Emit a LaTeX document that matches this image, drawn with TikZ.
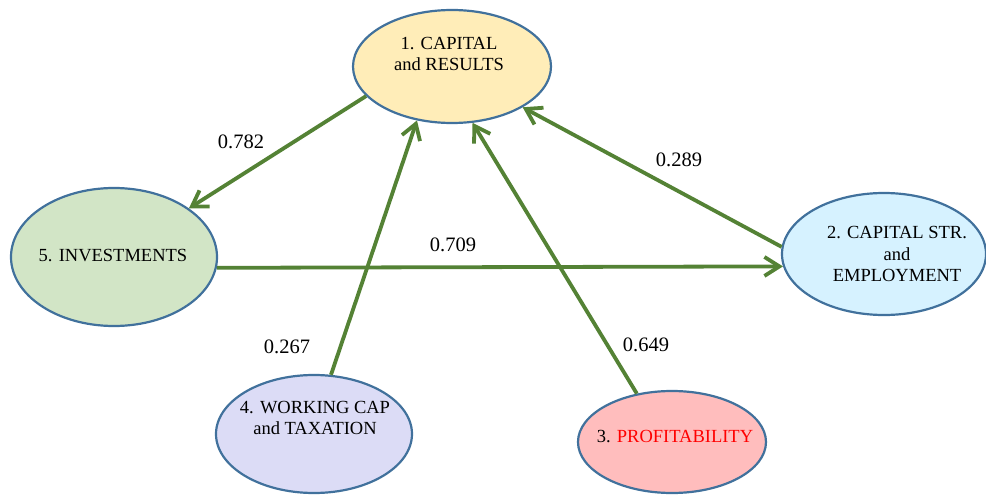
\documentclass[tikz,border=0pt]{standalone}
\usepackage{fontspec}
\setmainfont{Liberation Serif}
\usepackage{xcolor}
\usetikzlibrary{shapes.geometric}
\usetikzlibrary{arrows.meta}

\definecolor{rimblue}{HTML}{41719C}
\definecolor{linkgreen}{HTML}{548235}
\definecolor{capfill}{HTML}{FFEDB8}
\definecolor{strfill}{HTML}{D6F2FF}
\definecolor{invfill}{HTML}{D2E5C6}
\definecolor{wrkfill}{HTML}{DCDCF6}
\definecolor{prffill}{HTML}{FFBDBD}

\begin{document}
\begin{tikzpicture}[
    x=1pt, y=-1pt,
    bubble/.style={ellipse, draw=rimblue, line width=2.2pt, inner sep=0pt},
    txt/.style={align=center, font=\rmfamily\fontsize{18.5}{21.5}\selectfont},
    weight/.style={font=\rmfamily\fontsize{20.5}{24}\selectfont},
    link/.style={-{Straight Barb[length=15pt,width=19pt]}, line width=3.8pt, draw=linkgreen}
]
    \useasboundingbox (0,0) rectangle (986,495);

    % The five blocks
    \node[bubble, fill=capfill, minimum width=198pt, minimum height=113pt] (cap) at (452,66.5) {};
    \node[bubble, fill=strfill, minimum width=204pt, minimum height=122pt] (str) at (884,254) {};
    \node[bubble, fill=invfill, minimum width=206pt, minimum height=138pt] (inv) at (114,257) {};
    \node[bubble, fill=wrkfill, minimum width=196pt, minimum height=118pt] (wrk) at (314,434) {};
    \node[bubble, fill=prffill, minimum width=188pt, minimum height=102pt] (prf) at (672,442) {};

    % Block texts
    \node[txt] (captxt) at (449,54) {1. CAPITAL\\and RESULTS};
    \node[txt] (strtxt) at (897,254) {2. CAPITAL STR.\\and\\EMPLOYMENT};
    \node[txt] (invtxt) at (113,256) {5. INVESTMENTS};
    \node[txt] (wrktxt) at (315,418) {4. WORKING CAP\\and TAXATION};
    \node[txt] (prftxt) at (675,437) {3. \textcolor{red}{PROFITABILITY}};

    % Paths between blocks
    \draw[link] (cap.199) -- (inv.33);
    \draw[link] (inv.354) -- (str.187.7);
    \draw[link] (str.176) -- (cap.330.3);
    \draw[link] (wrk.74.4) -- (cap.237);
    \draw[link] (prf.126.9) -- (cap.290.7);

    % Path weights
    \node[weight] (w782) at (241,142) {0.782};
    \node[weight] (w289) at (679,160) {0.289};
    \node[weight] (w709) at (453,245) {0.709};
    \node[weight] (w267) at (287,347) {0.267};
    \node[weight] (w649) at (646,345) {0.649};
\end{tikzpicture}
\end{document}
